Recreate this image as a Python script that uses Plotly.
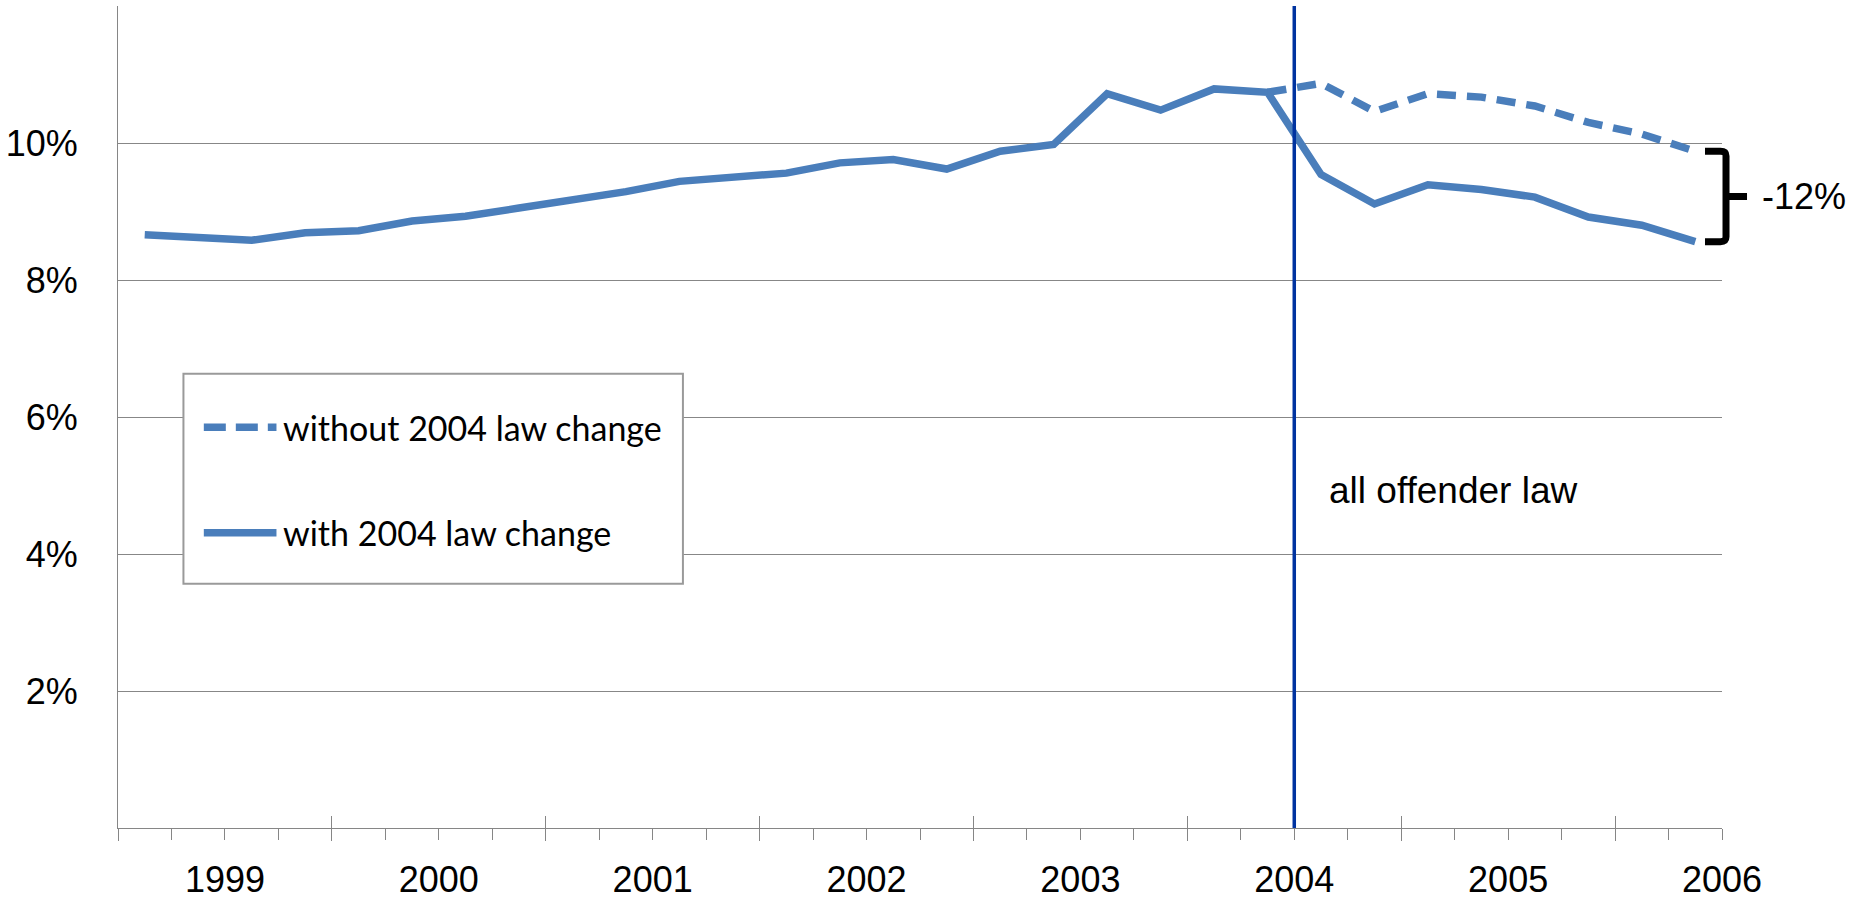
import plotly.graph_objects as go
import numpy as np

# ---------------- data ----------------
quarters = [
    "1998Q3", "1998Q4",
    "1999Q1", "1999Q2", "1999Q3", "1999Q4",
    "2000Q1", "2000Q2", "2000Q3", "2000Q4",
    "2001Q1", "2001Q2", "2001Q3", "2001Q4",
    "2002Q1", "2002Q2", "2002Q3", "2002Q4",
    "2003Q1", "2003Q2", "2003Q3", "2003Q4",
    "2004Q1", "2004Q2", "2004Q3", "2004Q4",
    "2005Q1", "2005Q2", "2005Q3", "2005Q4",
]
# share (%), with the 2004 law change (observed)
with_law_change = [
    8.66, 8.63, 8.58, 8.69, 8.72, 8.86, 8.93, 9.05, 9.16, 9.29,
    9.44, 9.50, 9.56, 9.71, 9.76, 9.62, 9.88, 9.98, 10.72, 10.48,
    10.79, 10.74, 9.54, 9.11, 9.39, 9.32, 9.21, 8.92, 8.80, 8.56,
]
# counterfactual without the 2004 law change, from 2003Q4 on
without_law_change = [10.74, 10.87, 10.46, 10.72, 10.67, 10.54, 10.30, 10.13, 9.88]

year_labels = ["1999", "2000", "2001", "2002", "2003", "2004", "2005", "2006"]
y_ticks = [2, 4, 6, 8, 10]
y_tick_text = ["2%", "4%", "6%", "8%", "10%"]
y_range = [0, 12]
law_label = "all offender law"
legend_names = ["without 2004 law change", "with 2004 law change"]

# ---------------- scales ----------------
n = len(quarters)
x_pos = np.arange(n) + 0.5                      # category centres
cf_start = n - len(without_law_change)
x_cf = x_pos[cf_start:]
law_edge = quarters.index("2004Q1")             # category boundary of the law change
year_edges = [quarters.index(f"{y}Q1") if f"{y}Q1" in quarters else n for y in year_labels]
major_ticks = [i for i, q in enumerate(quarters) if q.endswith("Q3")]
all_edges = list(range(n + 1))

BLUE = "#4A7EBB"
GRID = "#878787"
AXIS = "#868686"
ARIAL = "Liberation Sans, Arial, sans-serif"
CAL = "Lato, Calibri, sans-serif"

fig = go.Figure()
# counterfactual series (drawn on the axis that carries the year labels)
fig.add_trace(go.Scatter(
    x=x_cf, y=without_law_change, mode="lines", name=legend_names[0],
    xaxis="x2", yaxis="y",
    line=dict(color=BLUE, width=7.5, dash="19px,11px"), showlegend=False,
))
# observed series (axis with the outside tick marks)
fig.add_trace(go.Scatter(
    x=x_pos, y=with_law_change, mode="lines", name=legend_names[1],
    xaxis="x", yaxis="y",
    line=dict(color=BLUE, width=7.5), showlegend=False,
))
# vertical law-change marker (axis with the inside half of the major ticks)
fig.add_trace(go.Scatter(
    x=[law_edge, law_edge], y=y_range, mode="lines", name=law_label,
    xaxis="x3", yaxis="y", hoverinfo="skip",
    line=dict(color="#0033A0", width=3.5), showlegend=False,
))

# curly bracket between the two end values
ytop = without_law_change[-1]
ybot = with_law_change[-1]
ymid = (ytop + ybot) / 2
xa, xb, xc, xd = 0.9894, 0.9990, 1.0025, 1.0156
r = 0.07
path = (f"M {xa},{ytop} L {xb},{ytop} Q {xc},{ytop} {xc},{ytop - r} "
        f"L {xc},{ybot + r} Q {xc},{ybot} {xb},{ybot} L {xa},{ybot} "
        f"M {xc},{ymid} L {xd},{ymid}")
fig.add_shape(type="path", xref="paper", yref="y", path=path,
              line=dict(color="black", width=7))

fig.add_annotation(xref="paper", yref="y", x=1.0237, y=ymid, text="-12%",
                   showarrow=False, xanchor="left", yanchor="middle",
                   font=dict(family=ARIAL, size=36, color="black"))
fig.add_annotation(xref="x", yref="y", x=law_edge, y=4.93, xshift=33, text=law_label,
                   showarrow=False, xanchor="left", yanchor="middle",
                   font=dict(family=ARIAL, size=37, color="black"))

# legend box (custom, to match the original layout)
lx0, lx1, ly0, ly1 = 0.0408, 0.3522, 0.2972, 0.5527
fig.add_shape(type="rect", xref="paper", yref="paper", x0=lx0, x1=lx1, y0=ly0, y1=ly1,
              line=dict(color="#9a9a9a", width=2), fillcolor="white", layer="above")
rows = [0.4875, 0.3592]
dashes = ["22px,10px", "solid"]
for name, yrow, d in zip(legend_names, rows, dashes):
    fig.add_shape(type="line", xref="paper", yref="paper", x0=0.0535, x1=0.0988,
                  y0=yrow, y1=yrow, line=dict(color=BLUE, width=7.5, dash=d))
    fig.add_annotation(xref="paper", yref="paper", x=0.1015, y=yrow, text=name,
                       showarrow=False, xanchor="left", yanchor="middle",
                       font=dict(family=CAL, size=34, color="black"))

fig.update_layout(
    width=1856, height=900,
    margin=dict(l=118, r=134, t=6, b=72, autoexpand=False),
    paper_bgcolor="white", plot_bgcolor="white",
    showlegend=False,
    xaxis=dict(
        range=[0, n], showgrid=False, zeroline=False, automargin=False,
        showline=True, linecolor=AXIS, linewidth=1,
        tickmode="array", tickvals=major_ticks, ticks="outside", ticklen=12,
        tickcolor=AXIS, tickwidth=1, showticklabels=False,
        minor=dict(tickmode="array", tickvals=all_edges, ticks="outside",
                   ticklen=11, tickcolor=AXIS, tickwidth=1, showgrid=False),
    ),
    xaxis2=dict(
        overlaying="x", anchor="y", side="bottom", range=[0, n], automargin=False,
        showgrid=False, zeroline=False, showline=False, ticks="",
        tickmode="array", tickvals=year_edges, ticktext=year_labels,
        ticklabelstandoff=27,
        tickfont=dict(family=ARIAL, size=36, color="black"),
    ),
    xaxis3=dict(
        overlaying="x", anchor="y", side="bottom", range=[0, n], automargin=False,
        showgrid=False, zeroline=False, showline=False,
        tickmode="array", tickvals=major_ticks, ticks="inside", ticklen=12,
        tickcolor=AXIS, tickwidth=1, showticklabels=False,
    ),
    yaxis=dict(
        range=y_range, showgrid=True, gridcolor=GRID, gridwidth=1, zeroline=False,
        showline=True, linecolor=AXIS, linewidth=1, automargin=False,
        tickmode="array", tickvals=y_ticks, ticktext=y_tick_text, ticks="",
        ticklabelstandoff=32,
        tickfont=dict(family=ARIAL, size=36, color="black"),
    ),
    yaxis2=dict(
        overlaying="y", anchor="x", side="right", range=y_range, automargin=False,
        showgrid=False, zeroline=False, showline=True, linecolor="#c4c4c4",
        linewidth=1, ticks="", showticklabels=False,
    ),
)

fig.write_html("out.html")
